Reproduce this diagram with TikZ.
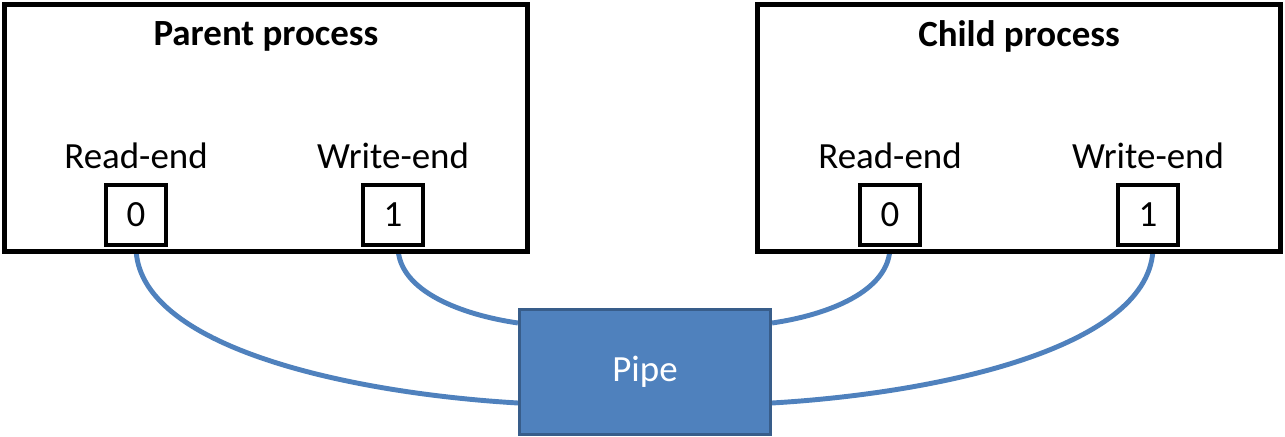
\documentclass[tikz,border=0pt]{standalone}
\usepackage{fontspec}
\setmainfont{Carlito}
\usetikzlibrary{calc,backgrounds}
\definecolor{pipeblue}{HTML}{4F81BD}
\definecolor{pipeedge}{HTML}{385D8A}
\begin{document}
\begin{tikzpicture}[x=0.01cm,y=-0.01cm,
  procbox/.style={draw=black,line width=1.45pt,fill=white,minimum width=5.22cm,minimum height=2.46cm,inner sep=0pt},
  fdbox/.style={draw=black,line width=0.9pt,fill=white,minimum width=0.6cm,minimum height=0.6cm,inner sep=0pt,font=\fontsize{10.5}{12.6}\selectfont},
  title/.style={font=\fontsize{10.5}{12.6}\selectfont\bfseries,inner sep=0pt},
  lbl/.style={font=\fontsize{10.5}{12.6}\selectfont,inner sep=0pt},
  pipebox/.style={draw=pipeedge,line width=0.85pt,fill=pipeblue,minimum width=2.51cm,minimum height=1.24cm,inner sep=0pt,text=white,font=\fontsize{10.5}{12.6}\selectfont},
  conn/.style={draw=pipeblue,line width=1.4pt}]
\useasboundingbox (0,0) rectangle (1285,437);
\node[procbox] (parent) at (266,128) {};
\node[procbox] (child) at (1019,128) {};
\node[title] (ptitle) at (266,36) {Parent process};
\node[title] (ctitle) at (1019,36) {Child process};
\node[lbl] (pr) at (136,156) {Read-end};
\node[lbl] (pw) at (393,156) {Write-end};
\node[lbl] (cr) at (890,156) {Read-end};
\node[lbl] (cw) at (1148,156) {Write-end};
\node[fdbox] (p0) at (136,215) {0};
\node[fdbox] (p1) at (393,215) {1};
\node[fdbox] (c0) at (890,215) {0};
\node[fdbox] (c1) at (1148,215) {1};
\node[pipebox] (pipe) at (645,372) {Pipe};
\begin{scope}[on background layer]
\draw[conn] (p0.south) .. controls +(0,100) and +(-170,-10) .. ($(pipe.west)+(0,31)$);
\draw[conn] ($(p1.south)+(5,0)$) .. controls +(0,45) and +(-55,-8) .. ($(pipe.west)+(0,-49)$);
\draw[conn] ($(c0.south)+(0,0)$) .. controls +(0,45) and +(55,-8) .. ($(pipe.east)+(0,-49)$);
\draw[conn] ($(c1.south)+(5,0)$) .. controls +(0,100) and +(170,-10) .. ($(pipe.east)+(0,31)$);
\end{scope}
\end{tikzpicture}
\end{document}
